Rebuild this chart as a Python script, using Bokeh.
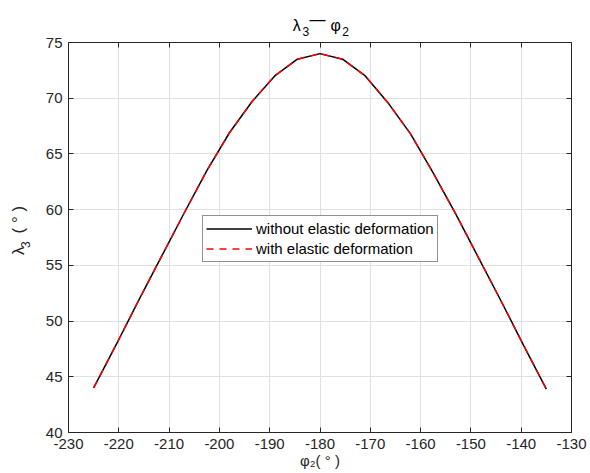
from bokeh.plotting import figure
from bokeh.models import (LinearAxis, Range1d, FixedTicker, Legend, LegendItem,
                          CustomJSTickFormatter)
from bokeh.embed import file_html
from bokeh.resources import INLINE

# ---- data ----
phi2 = [-225, -220.5, -216, -211.5, -207, -202.5, -198, -193.5, -189, -184.5, -180,
        -175.5, -171, -166.5, -162, -157.5, -153, -148.5, -144, -139.5, -135]
lam3_without = [44.0, 47.9, 51.9, 55.8, 59.7, 63.5, 66.9, 69.7, 72.0, 73.5, 74.0,
                73.5, 72.0, 69.6, 66.8, 63.3, 59.6, 55.7, 51.8, 47.8, 43.9]
lam3_with = [44.0, 47.9, 51.9, 55.8, 59.7, 63.5, 66.9, 69.7, 72.0, 73.5, 74.0,
             73.5, 72.0, 69.6, 66.8, 63.3, 59.6, 55.7, 51.8, 47.8, 43.9]
x_ticks = [-230, -220, -210, -200, -190, -180, -170, -160, -150, -140, -130]
y_ticks = [40, 45, 50, 55, 60, 65, 70, 75]
legend_labels = ["without elastic deformation", "with elastic deformation"]
x_label = "φ₂(\u00a0°\u00a0)"

# ---- text pieces (title and y label with real subscripts) ----
title_main = ["λ", "φ"]
title_main_at = [-184.6, -176.9]
title_sub = ["3", "2"]
title_sub_at = [-182.8, -174.9]
title_dash = ["—"]
title_dash_at = [-180.5]
ylab_main = ["λ", "(\u00a0°\u00a0)"]
ylab_main_at = [56.3, 59.1]
ylab_sub = ["3"]
ylab_sub_at = [56.85]

FONT = "Liberation Sans"
TXT = "#262626"

p = figure(width=590, height=473, output_backend="svg", toolbar_location=None,
           x_range=Range1d(-230, -130), y_range=Range1d(40, 75),
           min_border_left=68, min_border_right=19, min_border_top=42, min_border_bottom=41)

p.outline_line_color = TXT
p.outline_line_width = 1
p.background_fill_color = "white"
p.border_fill_color = "white"

fmt = CustomJSTickFormatter(code="return String(tick);")
for ax in (p.xaxis[0], p.yaxis[0]):
    ax.major_tick_in = 5
    ax.major_tick_out = 0
    ax.minor_tick_in = 0
    ax.minor_tick_out = 0
    ax.axis_line_color = TXT
    ax.major_tick_line_color = TXT
    ax.major_label_text_font = FONT
    ax.major_label_text_font_size = "15px"
    ax.major_label_text_color = TXT
    ax.formatter = fmt

p.xaxis[0].ticker = FixedTicker(ticks=x_ticks)
p.yaxis[0].ticker = FixedTicker(ticks=y_ticks)
p.xaxis[0].major_label_standoff = 6
p.yaxis[0].major_label_standoff = 6
p.xaxis[0].axis_label = x_label
p.xaxis[0].axis_label_standoff = 0
p.xaxis[0].axis_label_text_font = FONT
p.xaxis[0].axis_label_text_font_size = "15px"
p.xaxis[0].axis_label_text_font_style = "normal"
p.xaxis[0].axis_label_text_color = TXT

top = LinearAxis(ticker=FixedTicker(ticks=x_ticks), major_label_text_font_size="0px",
                 major_tick_in=5, major_tick_out=0, minor_tick_in=0, minor_tick_out=0,
                 axis_line_color=TXT, major_tick_line_color=TXT, major_label_standoff=0)
right = LinearAxis(ticker=FixedTicker(ticks=y_ticks), major_label_text_font_size="0px",
                   major_tick_in=5, major_tick_out=0, minor_tick_in=0, minor_tick_out=0,
                   axis_line_color=TXT, major_tick_line_color=TXT, major_label_standoff=0)
p.add_layout(top, "above")
p.add_layout(right, "right")


def text_axis(side, at, labels, size, standoff, color, vertical=False):
    ax = LinearAxis(ticker=FixedTicker(ticks=at),
                    major_label_overrides={a: t for a, t in zip(at, labels)},
                    major_label_text_font=FONT, major_label_text_font_size=size,
                    major_label_text_color=color, major_label_standoff=standoff,
                    axis_line_color=None, major_tick_line_color=None,
                    minor_tick_line_color=None, major_tick_in=0, major_tick_out=0,
                    minor_tick_in=0, minor_tick_out=0)
    if vertical:
        ax.major_label_orientation = "vertical"
    p.add_layout(ax, side)
    return ax


# title bands (stacked outward from the frame)
text_axis("above", title_sub_at, title_sub, "12px", 7, "#000000")
text_axis("above", title_main_at, title_main, "16px", -10, "#000000")
text_axis("above", title_dash_at, title_dash, "16px", -14, "#000000")
# y label bands
text_axis("left", ylab_sub_at, ylab_sub, "12px", 12, TXT, vertical=True)
text_axis("left", ylab_main_at, ylab_main, "17px", -10, TXT, vertical=True)

p.xgrid.ticker = FixedTicker(ticks=x_ticks)
p.ygrid.ticker = FixedTicker(ticks=y_ticks)
p.grid.grid_line_color = "#dfdfdf"
p.grid.grid_line_width = 1

r1 = p.line(phi2, lam3_without, line_color="black", line_width=1.5)
r2 = p.line(phi2, lam3_with, line_color="#ff0000", line_width=1.5, line_dash="7 6")

legend = Legend(items=[LegendItem(label=legend_labels[0], renderers=[r1]),
                       LegendItem(label=legend_labels[1], renderers=[r2])],
                location=(134, 170))
legend.label_text_font = FONT
legend.label_text_font_size = "15px"
legend.label_text_color = "#000000"
legend.border_line_color = TXT
legend.border_line_width = 1
legend.padding = 3
legend.spacing = 1
legend.margin = 0
legend.glyph_width = 46
legend.glyph_height = 19
legend.label_height = 19
legend.label_standoff = 4
legend.background_fill_alpha = 1
p.add_layout(legend, "center")

open("out.html", "w").write(file_html(p, INLINE))
